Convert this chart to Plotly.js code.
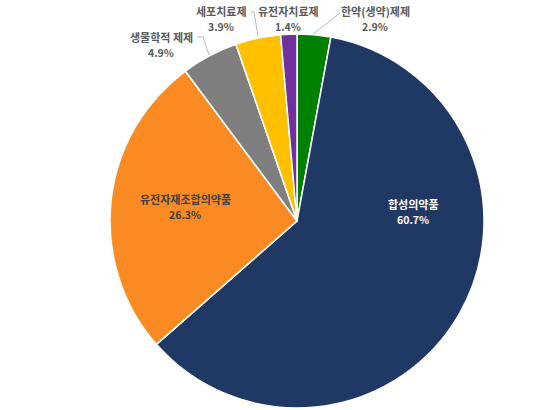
<!DOCTYPE html>
<html>
<head>
<meta charset="utf-8">
<script src="https://cdn.plot.ly/plotly-3.0.1.min.js"></script>
<style>html,body{margin:0;padding:0;background:#fff;}#chart{width:550px;height:410px;}</style>
</head>
<body>
<div id="chart"></div>
<script>
var labels = ["한약(생약)제제", "합성의약품", "유전자재조합의약품", "생물학적 제제", "세포치료제", "유전자치료제"];
var values = [2.9, 60.7, 26.3, 4.9, 3.9, 1.4];
var colors = ["#008000", "#203864", "#FA8B22", "#7F7F7F", "#FFC000", "#7030A0"];

// label placement (paper pixel positions): name line y, percent line y
var labelPos = [
  {x: 375, y1: 11, y2: 26, color: "#595959"},
  {x: 413, y1: 204, y2: 219, color: "#FFFFFF"},
  {x: 185, y1: 199, y2: 214, color: "#404040"},
  {x: 161, y1: 37, y2: 52, color: "#595959"},
  {x: 221, y1: 11, y2: 26, color: "#595959"},
  {x: 288, y1: 11, y2: 26, color: "#595959"}
];

var W = 550, H = 410;
var font = "'Noto Sans CJK KR', 'Noto Sans', sans-serif";

var annotations = [];
labels.forEach(function (l, i) {
  var p = labelPos[i];
  annotations.push({
    xref: "paper", yref: "paper",
    x: p.x / W, y: 1 - p.y1 / H,
    xanchor: "center", yanchor: "middle",
    text: "<b>" + l + "</b>",
    showarrow: false,
    font: {family: font, size: 11, color: p.color}
  });
  annotations.push({
    xref: "paper", yref: "paper",
    x: p.x / W, y: 1 - p.y2 / H,
    xanchor: "center", yanchor: "middle",
    text: "<b>" + values[i].toFixed(1) + "%</b>",
    showarrow: false,
    font: {family: font, size: 10.5, color: p.color}
  });
});

var line = {color: "#A6A6A6", width: 0.8};
var shapes = [
  // 한약(생약)제제 leader
  {type: "path", xref: "paper", yref: "paper",
   path: "M " + (340/W) + "," + (1-13/H) + " L " + (313/W) + "," + (1-34/H), line: line},
  // 생물학적 제제 leader
  {type: "path", xref: "paper", yref: "paper",
   path: "M " + (197/W) + "," + (1-37/H) + " L " + (203/W) + "," + (1-37/H) + " L " + (209/W) + "," + (1-55/H), line: line},
  // 세포치료제 leader
  {type: "path", xref: "paper", yref: "paper",
   path: "M " + (251/W) + "," + (1-12/H) + " L " + (254/W) + "," + (1-12/H) + " L " + (258/W) + "," + (1-36/H), line: line}
];

var trace = {
  type: "pie",
  labels: labels,
  values: values,
  sort: false,
  direction: "clockwise",
  rotation: 0,
  textinfo: "none",
  hoverinfo: "label+percent",
  marker: {colors: colors, line: {color: "#FFFFFF", width: 1.5}},
  domain: {x: [110/W, 484/W], y: [1 - 408/H, 1 - 34/H]}
};

var layout = {
  width: W, height: H,
  margin: {l: 0, r: 0, t: 0, b: 0},
  paper_bgcolor: "#FFFFFF",
  showlegend: false,
  annotations: annotations,
  shapes: shapes
};

Plotly.newPlot("chart", [trace], layout, {displayModeBar: false, staticPlot: true});
</script>
</body>
</html>
